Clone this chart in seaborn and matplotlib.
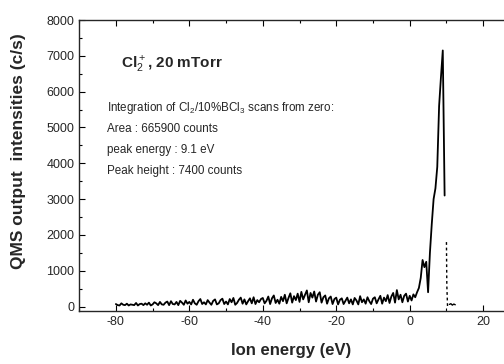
import matplotlib
matplotlib.use("Agg")
import matplotlib.pyplot as plt
import seaborn as sns
import pandas as pd
from matplotlib.ticker import MultipleLocator

# Ion energy distribution, Cl2+ at 20 mTorr
energy = [
    -80.0, -79.5, -79.0, -78.5, -78.0, -77.5, -77.0, -76.5, -76.0, -75.5,
    -75.0, -74.5, -74.0, -73.5, -73.0, -72.5, -72.0, -71.5, -71.0, -70.5,
    -70.0, -69.5, -69.0, -68.5, -68.0, -67.5, -67.0, -66.5, -66.0, -65.5,
    -65.0, -64.5, -64.0, -63.5, -63.0, -62.5, -62.0, -61.5, -61.0, -60.5,
    -60.0, -59.5, -59.0, -58.5, -58.0, -57.5, -57.0, -56.5, -56.0, -55.5,
    -55.0, -54.5, -54.0, -53.5, -53.0, -52.5, -52.0, -51.5, -51.0, -50.5,
    -50.0, -49.5, -49.0, -48.5, -48.0, -47.5, -47.0, -46.5, -46.0, -45.5,
    -45.0, -44.5, -44.0, -43.5, -43.0, -42.5, -42.0, -41.5, -41.0, -40.5,
    -40.0, -39.5, -39.0, -38.5, -38.0, -37.5, -37.0, -36.5, -36.0, -35.5,
    -35.0, -34.5, -34.0, -33.5, -33.0, -32.5, -32.0, -31.5, -31.0, -30.5,
    -30.0, -29.5, -29.0, -28.5, -28.0, -27.5, -27.0, -26.5, -26.0, -25.5,
    -25.0, -24.5, -24.0, -23.5, -23.0, -22.5, -22.0, -21.5, -21.0, -20.5,
    -20.0, -19.5, -19.0, -18.5, -18.0, -17.5, -17.0, -16.5, -16.0, -15.5,
    -15.0, -14.5, -14.0, -13.5, -13.0, -12.5, -12.0, -11.5, -11.0, -10.5,
    -10.0, -9.5, -9.0, -8.5, -8.0, -7.5, -7.0, -6.5, -6.0, -5.5,
    -5.0, -4.5, -4.0, -3.5, -3.0, -2.5, -2.0, -1.5, -1.0, -0.5,
    0.0, 0.5, 1.0, 1.5, 2.0, 2.5, 3.0, 3.5, 4.0, 4.5,
    5.0, 5.5, 6.0, 6.5, 7.0, 7.5, 8.0, 8.5, 9.0, 9.5,
]
counts = [
    70, 40, 30, 90, 50, 40, 80, 30, 60, 50,
    40, 100, 30, 70, 80, 40, 90, 50, 110, 30,
    60, 120, 90, 40, 130, 60, 50, 110, 140, 40,
    150, 70, 60, 130, 40, 160, 110, 50, 170, 80,
    130, 60, 190, 90, 50, 150, 210, 70, 120, 60,
    180, 110, 50, 160, 200, 60, 90, 180, 220, 70,
    140, 60, 210, 120, 240, 50, 100, 190, 250, 80,
    200, 60, 150, 230, 90, 260, 70, 180, 120, 210,
    240, 90, 160, 280, 70, 230, 310, 100, 190, 80,
    270, 150, 330, 90, 240, 370, 110, 290, 180, 360,
    130, 410, 200, 330, 450, 120, 380, 250, 420, 140,
    330, 400, 110, 260, 310, 80, 230, 280, 70, 210,
    250, 60, 190, 230, 70, 160, 250, 90, 200, 60,
    240, 170, 60, 290, 120, 200, 80, 260, 150, 70,
    220, 260, 90, 200, 300, 80, 250, 150, 320, 100,
    280, 380, 110, 460, 200, 330, 120, 300, 360, 140,
    300, 170, 340, 260, 400, 520, 800, 1300, 1100, 1250,
    400, 1500, 2300, 3000, 3300, 3900, 5600, 6400, 7150, 3100,
]
# trailing part of the scan (dashed in the original)
tail_energy = [10.0, 10.1, 10.3]
tail_counts = [1800, 600, 0]
end_energy = [10.8, 11.2, 11.6, 12.0, 12.4]
end_counts = [60, 80, 40, 70, 50]

df = pd.DataFrame({"energy": energy, "counts": counts})
tail = pd.DataFrame({"energy": tail_energy, "counts": tail_counts})
end = pd.DataFrame({"energy": end_energy, "counts": end_counts})

sns.set_style("ticks")
plt.rcParams["font.family"] = ["Liberation Sans", "DejaVu Sans"]
plt.rcParams["mathtext.fontset"] = "custom"
plt.rcParams["mathtext.rm"] = "Liberation Sans"
plt.rcParams["mathtext.bf"] = "Liberation Sans:bold"
plt.rcParams["axes.unicode_minus"] = False

fig = plt.figure(figsize=(5.04, 3.64), dpi=100)
ax = fig.add_axes([0.157, 0.146, 0.86, 0.799])

sns.lineplot(data=df, x="energy", y="counts", color="black", linewidth=1.3,
             sort=False, ax=ax)
sns.lineplot(data=tail, x="energy", y="counts", color="black", linewidth=1.0,
             linestyle=(0, (2, 2)), sort=False, ax=ax)
sns.lineplot(data=end, x="energy", y="counts", color="black", linewidth=1.0,
             sort=False, ax=ax)

ax.set_xlim(-90, 28)
ax.set_ylim(-120, 8000)
ax.xaxis.set_major_locator(MultipleLocator(20))
ax.xaxis.set_minor_locator(MultipleLocator(10))
ax.yaxis.set_major_locator(MultipleLocator(1000))
ax.yaxis.set_minor_locator(MultipleLocator(500))
ax.tick_params(which="both", direction="in", top=True, right=False,
               labelsize=9, color="black")
ax.tick_params(which="major", length=4, width=0.8)
ax.tick_params(which="minor", length=2.5, width=0.8)
for side in ["left", "bottom", "top"]:
    ax.spines[side].set_linewidth(1.0)
ax.spines["right"].set_visible(False)

ax.set_xlabel("Ion energy (eV)", fontsize=12, fontweight="bold")
ax.set_ylabel("QMS output  intensities (c/s)", fontsize=12.5, fontweight="bold")
ax.yaxis.set_label_coords(-0.122, 0.55)
ax.xaxis.set_label_coords(0.49, -0.11)

ax.text(-78.5, 6750, r"Cl$_2^+$, 20 mTorr", fontsize=11, fontweight="bold",
        va="center")
info = [
    r"Integration of Cl$_2$/10%BCl$_3$ scans from zero:",
    "Area : 665900 counts",
    "peak energy : 9.1 eV",
    "Peak height : 7400 counts",
]
for i, line in enumerate(info):
    ax.text(-82.5, 5550 - i * 590, line, fontsize=8.4, va="center")

fig.savefig("out.png", dpi=100)
